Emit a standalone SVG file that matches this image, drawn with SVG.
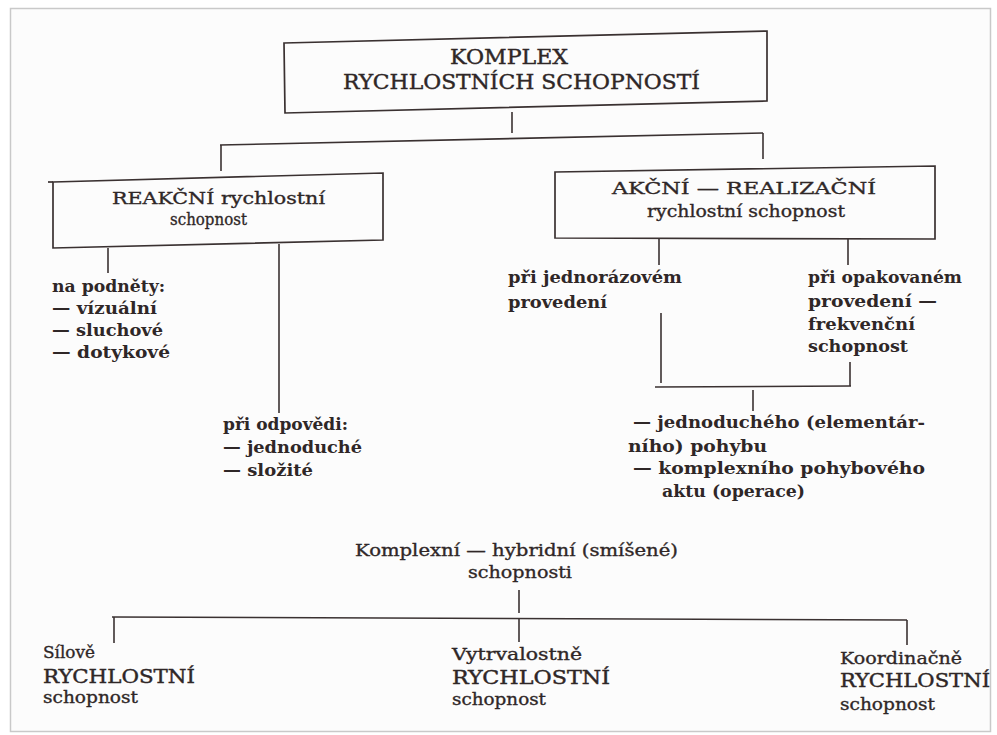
<svg xmlns="http://www.w3.org/2000/svg" width="997" height="735" viewBox="0 0 997 735">
<style>
  .t { font-family: "DejaVu Serif", "Liberation Serif", serif; fill: #2f2727; }
  .n { font-size: 17px; font-weight: normal; stroke: #2f2727; stroke-width: 0.35; }
  .b { font-size: 16px; font-weight: bold; }
  .h { font-size: 20px; font-weight: normal; stroke: #2f2727; stroke-width: 0.4; }
  .c { font-size: 18px; font-weight: normal; stroke: #2f2727; stroke-width: 0.4; }
  .box { fill: none; stroke: #3a3131; stroke-width: 1.7; stroke-linejoin: miter; }
  .ln { fill: none; stroke: #3a3131; stroke-width: 1.6; }
</style>
<rect x="0" y="0" width="997" height="735" fill="#ffffff"/>
<rect x="10.5" y="8.5" width="980" height="723" fill="#fcfcfc" stroke="#c9c9c9" stroke-width="1.5"/>

<g id="connectors">
  <line class="ln" x1="512" y1="112" x2="512" y2="133"/>
  <line class="ln" x1="220" y1="145" x2="763" y2="133"/>
  <line class="ln" x1="221" y1="145" x2="221" y2="171"/>
  <line class="ln" x1="763" y1="133" x2="763" y2="159"/>
  <line class="ln" x1="108" y1="248" x2="108" y2="273"/>
  <line class="ln" x1="279" y1="244" x2="279" y2="413"/>
  <line class="ln" x1="659" y1="238" x2="659" y2="265"/>
  <line class="ln" x1="848" y1="239" x2="848" y2="265"/>
  <line class="ln" x1="661" y1="313" x2="661" y2="383"/>
  <line class="ln" x1="850" y1="362" x2="850" y2="386"/>
  <line class="ln" x1="655" y1="387" x2="851" y2="386"/>
  <line class="ln" x1="753" y1="390" x2="753" y2="411"/>
  <line class="ln" x1="519" y1="590" x2="519" y2="613"/>
  <line class="ln" x1="112" y1="617" x2="907" y2="620"/>
  <line class="ln" x1="114" y1="617" x2="114" y2="643"/>
  <line class="ln" x1="519" y1="619" x2="519" y2="642"/>
  <line class="ln" x1="907" y1="620" x2="907" y2="645"/>
</g>

<g id="n-root">
  <polygon class="box" points="284,43 767,31 767,101 285,113"/>
  <text class="t h" x="450" y="64" textLength="118" lengthAdjust="spacingAndGlyphs">KOMPLEX</text>
  <text class="t h" x="343" y="89" textLength="357" lengthAdjust="spacingAndGlyphs">RYCHLOSTNÍCH  SCHOPNOSTÍ</text>
</g>

<g id="n-reakcni">
  <polygon class="box" points="53,182 383,173 383,240 53,248"/>
  <line class="box" x1="48" y1="182" x2="53" y2="182"/>
  <text class="t n" x="112" y="204" textLength="213" lengthAdjust="spacingAndGlyphs">REAKČNÍ rychlostní</text>
  <text class="t n" x="170" y="225" textLength="77" lengthAdjust="spacingAndGlyphs">schopnost</text>
</g>

<g id="n-akcni">
  <polygon class="box" points="555,172 935,166 935,239 555,238"/>
  <text class="t n" x="612" y="194" textLength="264" lengthAdjust="spacingAndGlyphs">AKČNÍ — REALIZAČNÍ</text>
  <text class="t n" x="647" y="217" textLength="198" lengthAdjust="spacingAndGlyphs">rychlostní schopnost</text>
</g>

<g id="n-podnety">
  <text class="t b" x="52" y="292" textLength="113" lengthAdjust="spacingAndGlyphs">na podněty:</text>
  <text class="t b" x="52" y="314" textLength="105" lengthAdjust="spacingAndGlyphs">— vízuální</text>
  <text class="t b" x="52" y="336" textLength="111" lengthAdjust="spacingAndGlyphs">— sluchové</text>
  <text class="t b" x="52" y="358" textLength="118" lengthAdjust="spacingAndGlyphs">— dotykové</text>
</g>

<g id="n-odpovedi">
  <text class="t b" x="223" y="430" textLength="125" lengthAdjust="spacingAndGlyphs">při odpovědi:</text>
  <text class="t b" x="223" y="453" textLength="139" lengthAdjust="spacingAndGlyphs">— jednoduché</text>
  <text class="t b" x="223" y="476" textLength="90" lengthAdjust="spacingAndGlyphs">— složité</text>
</g>

<g id="n-jednorazove">
  <text class="t b" x="508" y="283" textLength="174" lengthAdjust="spacingAndGlyphs">při jednorázovém</text>
  <text class="t b" x="508" y="308" textLength="99" lengthAdjust="spacingAndGlyphs">provedení</text>
</g>

<g id="n-opakovane">
  <text class="t b" x="808" y="283" textLength="154" lengthAdjust="spacingAndGlyphs">při opakovaném</text>
  <text class="t b" x="808" y="307" textLength="129" lengthAdjust="spacingAndGlyphs">provedení —</text>
  <text class="t b" x="808" y="330" textLength="107" lengthAdjust="spacingAndGlyphs">frekvenční</text>
  <text class="t b" x="808" y="352" textLength="100" lengthAdjust="spacingAndGlyphs">schopnost</text>
</g>

<g id="n-pohyb">
  <text class="t b" x="633" y="428" textLength="292" lengthAdjust="spacingAndGlyphs">— jednoduchého (elementár-</text>
  <text class="t b" x="628" y="452" textLength="139" lengthAdjust="spacingAndGlyphs">ního) pohybu</text>
  <text class="t b" x="633" y="474" textLength="292" lengthAdjust="spacingAndGlyphs">— komplexního pohybového</text>
  <text class="t b" x="662" y="497" textLength="143" lengthAdjust="spacingAndGlyphs">aktu (operace)</text>
</g>

<g id="n-komplexni">
  <text class="t n" x="355" y="556" textLength="323" lengthAdjust="spacingAndGlyphs">Komplexní — hybridní (smíšené)</text>
  <text class="t n" x="468" y="578" textLength="104" lengthAdjust="spacingAndGlyphs">schopnosti</text>
</g>

<g id="n-silove">
  <text class="t n" x="43" y="658" textLength="52" lengthAdjust="spacingAndGlyphs">Sílově</text>
  <text class="t c" x="43" y="683" textLength="152" lengthAdjust="spacingAndGlyphs">RYCHLOSTNÍ</text>
  <text class="t n" x="43" y="703" textLength="95" lengthAdjust="spacingAndGlyphs">schopnost</text>
</g>

<g id="n-vytrvalostne">
  <text class="t n" x="452" y="660" textLength="130" lengthAdjust="spacingAndGlyphs">Vytrvalostně</text>
  <text class="t c" x="452" y="684" textLength="158" lengthAdjust="spacingAndGlyphs">RYCHLOSTNÍ</text>
  <text class="t n" x="452" y="705" textLength="94" lengthAdjust="spacingAndGlyphs">schopnost</text>
</g>

<g id="n-koordinacne">
  <text class="t n" x="840" y="664" textLength="122" lengthAdjust="spacingAndGlyphs">Koordinačně</text>
  <text class="t c" x="840" y="687" textLength="150" lengthAdjust="spacingAndGlyphs">RYCHLOSTNÍ</text>
  <text class="t n" x="840" y="710" textLength="95" lengthAdjust="spacingAndGlyphs">schopnost</text>
</g>
</svg>
